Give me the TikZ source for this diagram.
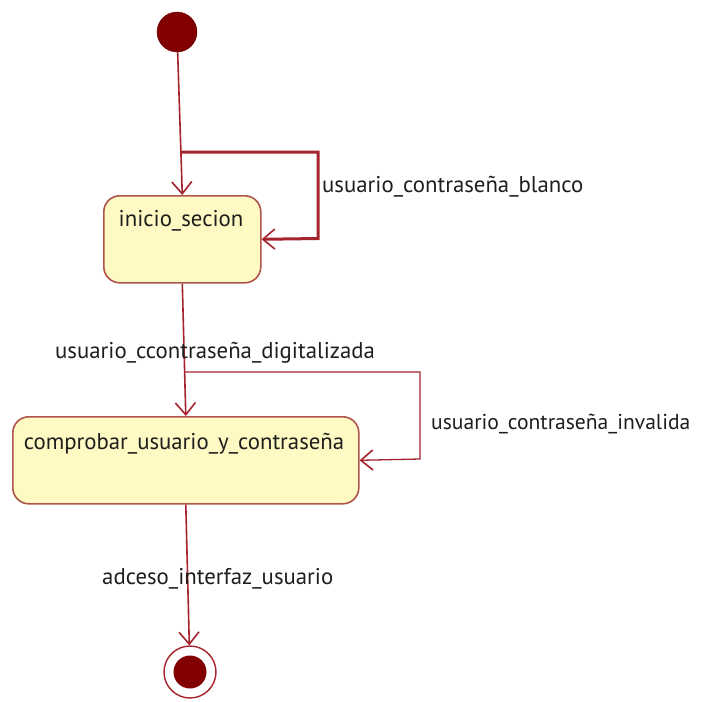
\documentclass[tikz,border=0pt]{standalone}
\usepackage{fontspec}
\setmainfont{PT Sans}
\usetikzlibrary{arrows.meta}
\definecolor{lineRed}{RGB}{165,35,45}
\definecolor{boxBorder}{RGB}{175,85,75}
\definecolor{boxFill}{RGB}{255,250,195}
\definecolor{dotFill}{RGB}{130,0,0}
\definecolor{txt}{RGB}{30,30,30}
\tikzset{
  statebox/.style={draw=boxBorder, fill=boxFill, line width=1.6pt, rounded corners=16pt, inner sep=0pt},
  conn/.style={draw=lineRed, line width=1.6pt, -{Straight Barb[length=12pt,width=20pt,line width=1.6pt]}},
  lbl/.style={text=txt, font=\fontsize{22.8}{26}\selectfont, inner sep=0pt},
}
\begin{document}
\begin{tikzpicture}[x=1pt,y=-1pt]
\useasboundingbox (0,0) rectangle (701,702);
% initial
\node[circle, fill=dotFill, draw=dotFill!80!black, minimum size=40pt, inner sep=0pt] (init) at (177,32) {};
% states
\node[statebox, anchor=north west, minimum width=157pt, minimum height=87pt] (s1) at (103,195) {};
\node[lbl, anchor=center] (s1t) at (181,221) {inicio\_secion};
\node[statebox, anchor=north west, minimum width=346pt, minimum height=87pt] (s2) at (12,416) {};
\node[lbl, anchor=center] (s2t) at (184,444) {comprobar\_usuario\_y\_contraseña};
% final
\node[circle, draw=lineRed, line width=1.4pt, fill=white, minimum size=52pt, inner sep=0pt] (fin) at (190,672) {};
\node[circle, fill=dotFill, minimum size=33pt, inner sep=0pt] (finIn) at (fin.center) {};
% transitions
\draw[conn] (init) -- (s1.north);
\coordinate (l1s) at (180,152);
\coordinate (l1a) at (318,152);
\coordinate (l1b) at (318,238.5);
\draw[conn, line width=3pt] (l1s) -- (l1a) -- (l1b) -- (s1.east);
\draw[conn] (s1.south) -- (s2.north);
\coordinate (l2s) at (184,372);
\coordinate (l2a) at (420,372);
\coordinate (l2b) at (420,459);
\draw[conn, line width=1.3pt] (l2s) -- (l2a) -- (l2b) -- (s2.east);
\draw[conn] (s2.south) -- (fin);
% labels
\node[lbl, anchor=west] (la) at (322,187) {usuario\_contraseña\_blanco};
\node[lbl, anchor=west] (lb) at (55,353) {usuario\_ccontraseña\_digitalizada};
\node[lbl, anchor=west, font=\fontsize{21.6}{25}\selectfont] (lc) at (431,424) {usuario\_contraseña\_invalida};
\node[lbl, anchor=west] (ld) at (102,579) {adceso\_interfaz\_usuario};
\end{tikzpicture}
\end{document}
